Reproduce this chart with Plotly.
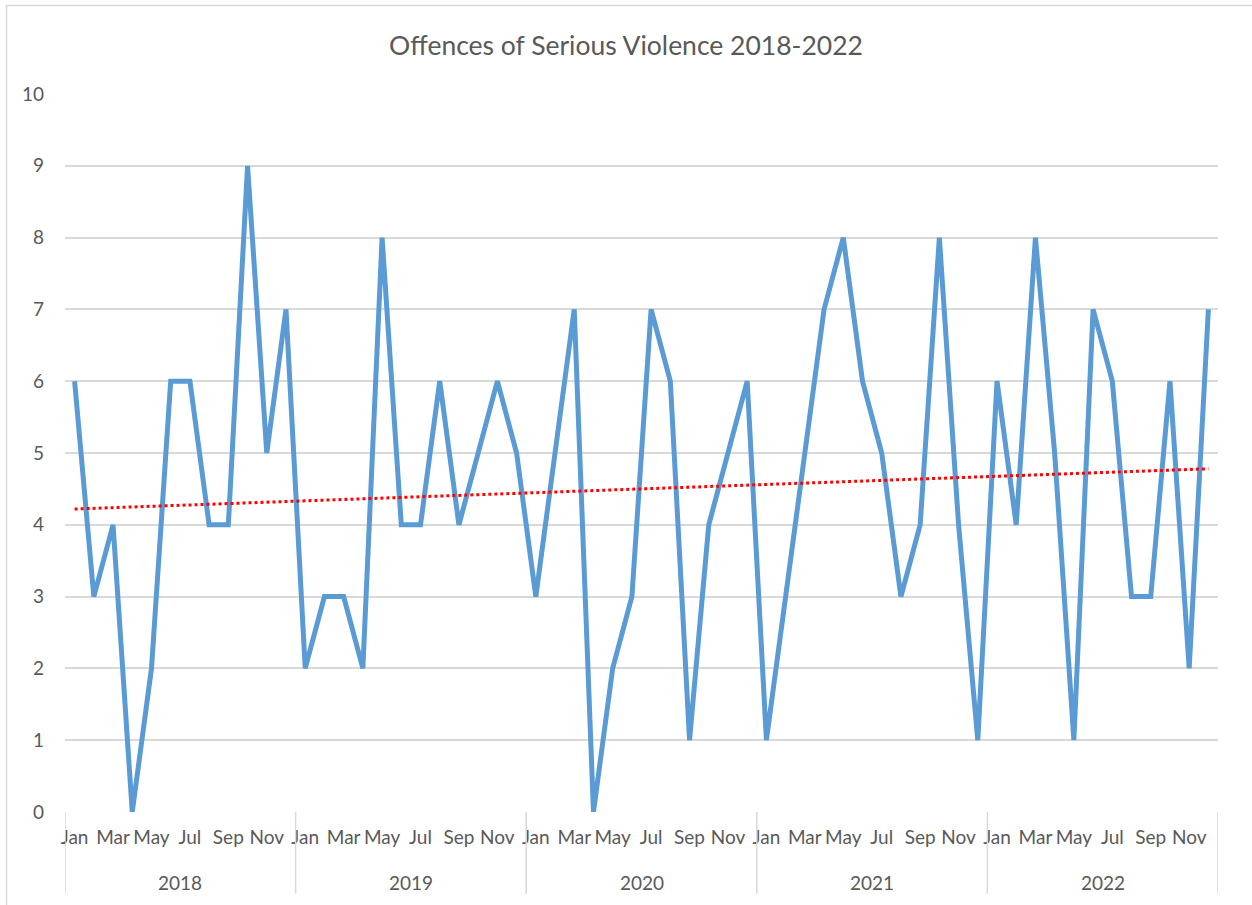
import numpy as np
import plotly.graph_objects as go

years = ["2018", "2019", "2020", "2021", "2022"]
months = ["Jan", "Feb", "Mar", "Apr", "May", "Jun", "Jul", "Aug", "Sep", "Oct", "Nov", "Dec"]
v2018 = [6, 3, 4, 0, 2, 6, 6, 4, 4, 9, 5, 7]
v2019 = [2, 3, 3, 2, 8, 4, 4, 6, 4, 5, 6, 5]
v2020 = [3, 5, 7, 0, 2, 3, 7, 6, 1, 4, 5, 6]
v2021 = [1, 3, 5, 7, 8, 6, 5, 3, 4, 8, 4, 1]
v2022 = [6, 4, 8, 5, 1, 7, 6, 3, 3, 6, 2, 7]
y_ticks = list(range(0, 11))

values = v2018 + v2019 + v2020 + v2021 + v2022
x = np.arange(len(values))
coef = np.polyfit(x, values, 1)
trend = np.polyval(coef, x)

GRAY = "#595959"
GRID = "#D9D9D9"
FONT = "Lato"

fig = go.Figure()
fig.add_trace(go.Scatter(x=x, y=values, mode="lines",
                         line=dict(color="#5B9BD5", width=5), showlegend=False))
fig.add_trace(go.Scatter(x=x, y=trend, mode="lines",
                         line=dict(color="#FF0000", width=3, dash="dot"), showlegend=False))

tickvals = [i for i in range(len(values)) if i % 2 == 0]
ticktext = [months[i % 12] for i in tickvals]

shapes = []
for k in range(len(years) + 1):
    xv = k * 12 - 0.5
    shapes.append(dict(type="line", xref="x", yref="paper", x0=xv, x1=xv, y0=0, y1=-0.114,
                       line=dict(color=GRID, width=1.5)))
shapes.append(dict(type="rect", xref="paper", yref="paper", x0=-0.0507, x1=1.06, y0=-0.2, y1=1.1233,
                   line=dict(color=GRID, width=1.5)))

annotations = []
for k, yr in enumerate(years):
    annotations.append(dict(x=k * 12 + 5.5, y=-0.0975, xref="x", yref="paper", text=yr,
                            showarrow=False, yanchor="middle",
                            font=dict(size=19, color=GRAY, family=FONT)))

fig.update_layout(
    width=1252, height=905,
    margin=dict(l=65, r=34, t=94, b=93),
    paper_bgcolor="white", plot_bgcolor="white",
    title=dict(text="Offences of Serious Violence 2018-2022", x=0.5, xanchor="center",
               y=0.950, yanchor="middle", font=dict(size=26.5, color=GRAY, family=FONT)),
    xaxis=dict(range=[-0.5, len(values) - 0.5], tickvals=tickvals, ticktext=ticktext,
               showgrid=False, zeroline=False, showline=False, ticks="",
               ticklabelstandoff=12,
               tickfont=dict(size=19, color=GRAY, family=FONT), tickangle=0),
    yaxis=dict(range=[0, 10], tickvals=y_ticks, showgrid=True, gridcolor=GRID, gridwidth=1.5,
               zeroline=False, showline=False, ticks="", ticklabelstandoff=20,
               tickfont=dict(size=19, color=GRAY, family=FONT)),
    shapes=shapes, annotations=annotations,
)
fig.write_html("out.html", config={"displayModeBar": False},
               post_script="document.body.style.margin='0px';")
